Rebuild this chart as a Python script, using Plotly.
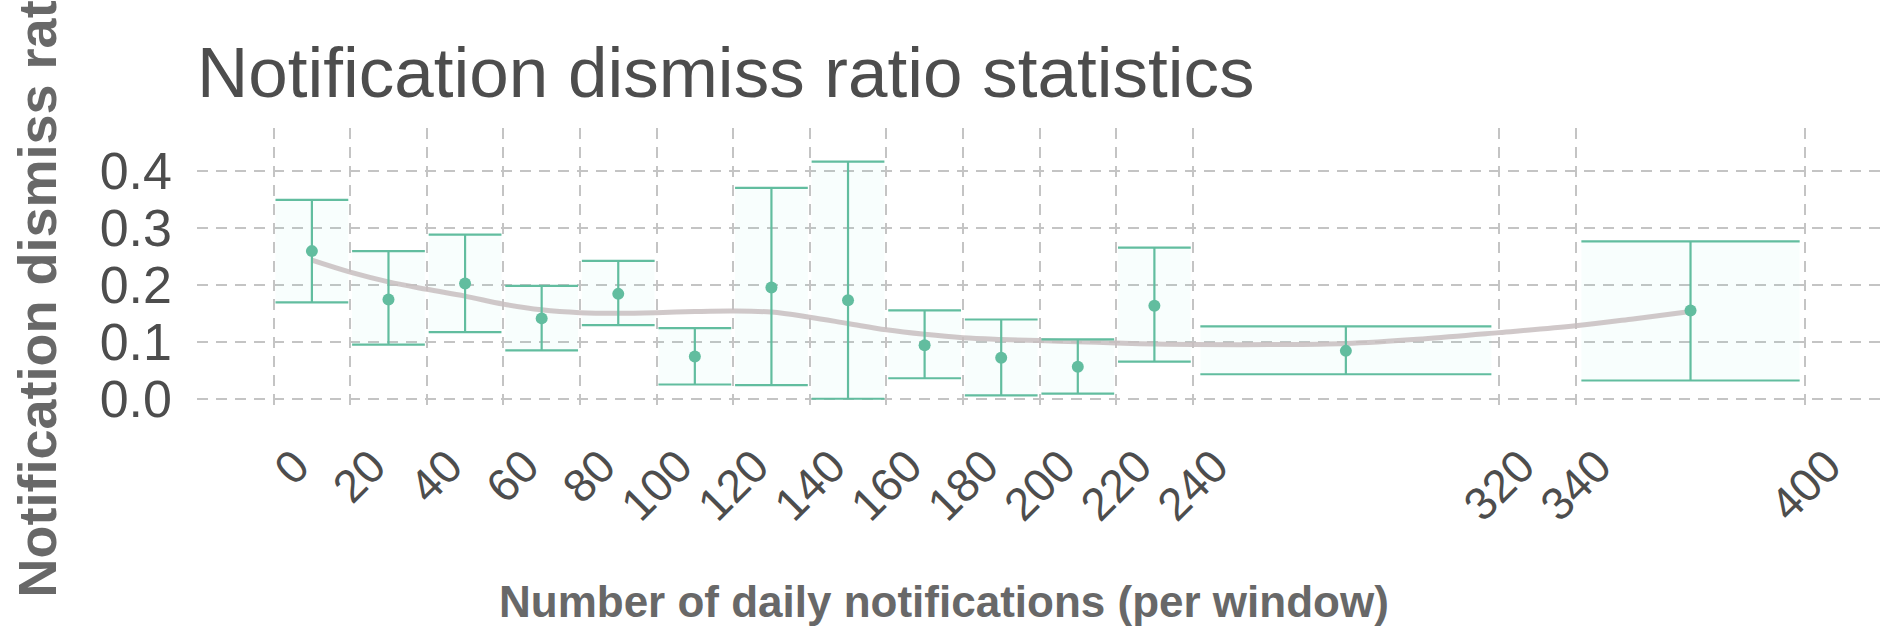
import plotly.graph_objects as go

# Binned dismiss-ratio statistics: bin edges, bin centres, mean and interval bounds
bin_lo = [0, 20, 40, 60, 80, 100, 120, 140, 160, 180, 200, 220, 240, 340]
bin_hi = [20, 40, 60, 80, 100, 120, 140, 160, 180, 200, 220, 240, 320, 400]
bin_mid = [10, 30, 50, 70, 90, 110, 130, 150, 170, 190, 210, 230, 280, 370]
ratio_mean = [0.259, 0.174, 0.202, 0.141, 0.184, 0.074, 0.195, 0.173, 0.094, 0.072, 0.056, 0.163, 0.084, 0.155]
ratio_upper = [0.349, 0.259, 0.288, 0.198, 0.242, 0.124, 0.370, 0.416, 0.155, 0.139, 0.104, 0.265, 0.127, 0.276]
ratio_lower = [0.169, 0.095, 0.117, 0.085, 0.129, 0.025, 0.024, 0.000, 0.036, 0.006, 0.009, 0.065, 0.043, 0.032]

# Smoothed trend through the bins
smooth_x = [10, 20, 30, 40, 50, 60, 70, 80, 90, 100, 110, 120, 130, 140, 150, 160, 170, 180,
            190, 200, 210, 220, 230, 240, 260, 280, 300, 320, 340, 355, 370]
smooth_y = [0.243, 0.222, 0.205, 0.192, 0.180, 0.166, 0.156, 0.151, 0.150, 0.151, 0.153, 0.154,
            0.152, 0.143, 0.132, 0.121, 0.113, 0.107, 0.104, 0.102, 0.100, 0.098, 0.096, 0.095,
            0.095, 0.097, 0.105, 0.116, 0.128, 0.140, 0.153]

x_ticks = [0, 20, 40, 60, 80, 100, 120, 140, 160, 180, 200, 220, 240, 320, 340, 400]
y_ticks = [0.0, 0.1, 0.2, 0.3, 0.4]

GREEN = "#62bd9f"
TEXT = "#4d4d4d"
AXTITLE = "#686868"
FONT = "Liberation Sans, Arial, sans-serif"
CAP_FRAC = 0.95  # caps span 95% of each bin

fig = go.Figure()

# faint band behind each interval
for lo, hi, lw, up in zip(bin_lo, bin_hi, ratio_lower, ratio_upper):
    pad = (hi - lo) * (1 - CAP_FRAC) / 2
    fig.add_trace(go.Scatter(
        x=[lo + pad, hi - pad, hi - pad, lo + pad, lo + pad],
        y=[lw, lw, up, up, lw],
        mode="lines", fill="toself", fillcolor="rgba(60,225,200,0.035)",
        line=dict(width=0), hoverinfo="skip", showlegend=False))

# smoothed trend line
fig.add_trace(go.Scatter(
    x=smooth_x, y=smooth_y, mode="lines",
    line=dict(color="rgba(200,190,192,0.85)", width=5, shape="spline"),
    hoverinfo="skip", showlegend=False))

# error bars with caps spanning each bin
ex, ey = [], []
for lo, hi, mid, lw, up in zip(bin_lo, bin_hi, bin_mid, ratio_lower, ratio_upper):
    pad = (hi - lo) * (1 - CAP_FRAC) / 2
    ex += [lo + pad, hi - pad, None, lo + pad, hi - pad, None, mid, mid, None]
    ey += [up, up, None, lw, lw, None, lw, up, None]
fig.add_trace(go.Scatter(x=ex, y=ey, mode="lines",
                         line=dict(color=GREEN, width=2.2),
                         hoverinfo="skip", showlegend=False))

# bin means
fig.add_trace(go.Scatter(x=bin_mid, y=ratio_mean, mode="markers",
                         marker=dict(color=GREEN, size=12),
                         showlegend=False))

grid = dict(showgrid=True, gridcolor="#c4c4c4", gridwidth=1.8, griddash="11px,8px",
            zeroline=False, showline=False, ticks="")

fig.update_layout(
    width=1887, height=631,
    margin=dict(l=197, r=5, t=128, b=218),
    paper_bgcolor="white", plot_bgcolor="white",
    font=dict(family=FONT, color=TEXT),
    title=dict(text="Notification dismiss ratio statistics",
               font=dict(size=71, color=TEXT, family=FONT),
               xref="paper", x=0, xanchor="left",
               yref="container", y=1 - 72 / 631, yanchor="middle"),
    xaxis=dict(range=[-20, 420], tickvals=x_ticks, tickangle=-45,
               tickfont=dict(size=46, color=TEXT), ticklabelshift=22,
               ticklabelstandoff=16, **grid),
    yaxis=dict(range=[-0.025, 0.475], tickvals=y_ticks, tickformat=".1f",
               tickfont=dict(size=52, color=TEXT), ticklabelstandoff=24, **grid),
    annotations=[
        dict(text="<b>Number of daily notifications (per window)</b>",
             xref="paper", yref="paper",
             x=(944 - 197) / 1685, y=(413 - 601) / 285,
             xanchor="center", yanchor="middle", showarrow=False,
             font=dict(size=44, color=AXTITLE, family=FONT)),
        dict(text="<b>Notification dismiss ratio</b>", textangle=-90,
             xref="paper", yref="paper",
             x=(36 - 197) / 1685, y=(413 - 600) / 285,
             xanchor="center", yanchor="bottom", showarrow=False,
             font=dict(size=54, color=AXTITLE, family=FONT)),
    ],
)

fig.write_html("out.html")
